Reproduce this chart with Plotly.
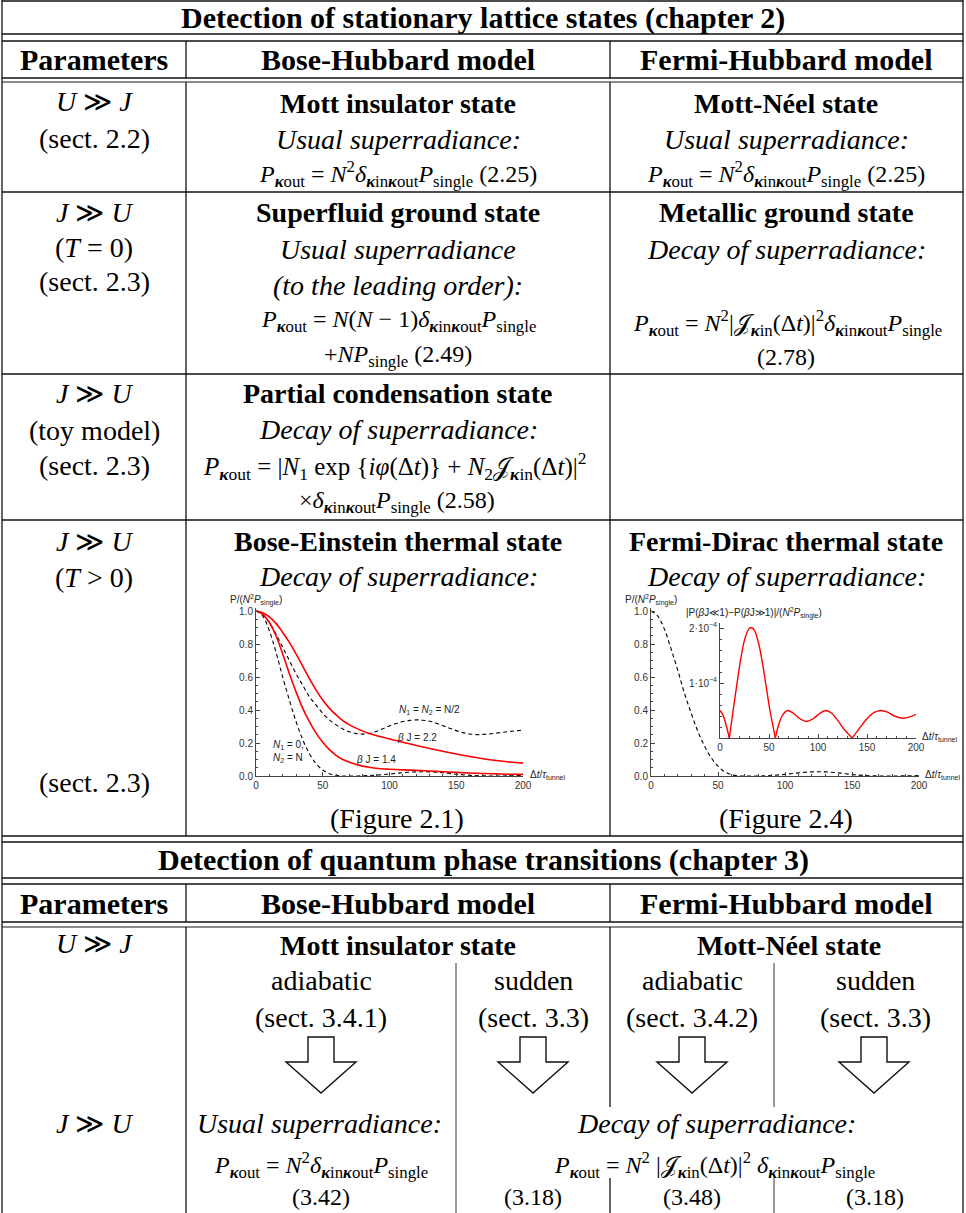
import plotly.graph_objects as go

W, H = 966, 1213

# ---------------- data ----------------
# Figure 2.1 (Bose-Einstein thermal state)
t_coarse = [0, 5, 10, 15, 20, 25, 30, 35, 40, 45, 50, 55, 60, 65, 70, 80, 90, 100,
            110, 120, 130, 140, 150, 160, 170, 180, 190, 200]
bose_n1_zero = [1.0, 0.97, 0.88, 0.75, 0.60, 0.46, 0.33, 0.22, 0.135, 0.075, 0.036, 0.014,
                0.004, 0.0, 0.0, 0.001, 0.005, 0.012, 0.02, 0.025, 0.025, 0.02, 0.011,
                0.004, 0.001, 0.0, 0.001, 0.003]
t_fine = [0, 5, 10, 15, 20, 25, 30, 35, 40, 45, 50, 55, 60, 65, 70, 75, 80, 85, 90, 95,
          100, 105, 110, 115, 120, 125, 130, 135, 140, 145, 150, 155, 160, 165, 170, 175,
          180, 185, 190, 195, 200]
bose_half = [1.0, 0.98, 0.93, 0.86, 0.78, 0.70, 0.62, 0.55, 0.48, 0.43, 0.38, 0.34, 0.31,
             0.285, 0.268, 0.257, 0.254, 0.258, 0.27, 0.287, 0.303, 0.318, 0.33, 0.337,
             0.34, 0.338, 0.332, 0.32, 0.305, 0.29, 0.275, 0.263, 0.255, 0.251, 0.252,
             0.255, 0.26, 0.265, 0.27, 0.274, 0.278]
t_red = [0, 5, 10, 15, 20, 25, 30, 35, 40, 45, 50, 55, 60, 65, 70, 75, 80, 85, 90, 100,
         110, 120, 130, 140, 150, 160, 170, 180, 190, 200]
bose_bj22 = [1.0, 0.99, 0.965, 0.925, 0.87, 0.81, 0.74, 0.665, 0.59, 0.52, 0.46, 0.41, 0.37,
             0.335, 0.31, 0.29, 0.272, 0.257, 0.245, 0.225, 0.205, 0.185, 0.167, 0.15,
             0.133, 0.118, 0.105, 0.094, 0.085, 0.078]
bose_bj14 = [1.0, 0.98, 0.93, 0.85, 0.74, 0.62, 0.51, 0.41, 0.33, 0.26, 0.205, 0.16, 0.125,
             0.10, 0.083, 0.07, 0.06, 0.053, 0.047, 0.041, 0.037, 0.034, 0.03, 0.026, 0.022,
             0.018, 0.015, 0.013, 0.011, 0.01]
# Figure 2.4 (Fermi-Dirac thermal state)
fermi_thermal = [1.0, 0.97, 0.89, 0.77, 0.64, 0.50, 0.38, 0.27, 0.18, 0.11, 0.06, 0.025,
                 0.008, 0.001, 0.0, 0.0, 0.003, 0.01, 0.019, 0.025, 0.025, 0.019, 0.009,
                 0.003, 0.0, 0.0, 0.001, 0.002]
t_inset = [0, 3, 6, 9.5, 13, 17, 21, 25, 29, 32, 35, 39, 43, 47, 51, 56.5, 60, 64, 69, 74,
           80, 88, 95, 102, 108, 114, 120, 127, 135, 142, 150, 157, 164, 171, 178, 186,
           193, 200]
fermi_diff_1e4 = [0.50, 0.42, 0.25, 0.0, 0.45, 0.95, 1.42, 1.78, 1.97, 2.01, 1.96, 1.75,
                  1.40, 0.95, 0.50, 0.0, 0.25, 0.42, 0.50, 0.46, 0.37, 0.30, 0.35, 0.45,
                  0.50, 0.45, 0.32, 0.15, 0.0, 0.17, 0.35, 0.46, 0.50, 0.47, 0.40, 0.36,
                  0.38, 0.43]
x_ticks = [0, 50, 100, 150, 200]
y_ticks = [0, 0.2, 0.4, 0.6, 0.8, 1.0]
inset_y_ticks = [1, 2]
inset_y_labels = ["1·10<sup>−4</sup>", "2·10<sup>−4</sup>"]

# ---------------- helpers ----------------
def px(x):
    return x / W


def py(y):
    return 1 - y / H


SERIF = "Liberation Serif"
SANS = "Liberation Sans"
BODY, HEAD, FORM = 28, 30, 24

fig = go.Figure()

RED = "#ff0000"
DASH = "4px,3px"

fig.add_trace(go.Scatter(x=t_fine, y=bose_half, xaxis="x", yaxis="y", mode="lines",
                         line=dict(color="black", width=1.1, dash=DASH, shape="spline")))
fig.add_trace(go.Scatter(x=t_coarse, y=bose_n1_zero, xaxis="x", yaxis="y", mode="lines",
                         line=dict(color="black", width=1.1, dash=DASH, shape="spline")))
fig.add_trace(go.Scatter(x=t_red, y=bose_bj22, xaxis="x", yaxis="y", mode="lines",
                         line=dict(color=RED, width=1.6, shape="spline")))
fig.add_trace(go.Scatter(x=t_red, y=bose_bj14, xaxis="x", yaxis="y", mode="lines",
                         line=dict(color=RED, width=1.6, shape="spline")))
fig.add_trace(go.Scatter(x=t_coarse, y=fermi_thermal, xaxis="x2", yaxis="y2", mode="lines",
                         line=dict(color="black", width=1.1, dash=DASH, shape="spline")))

# inset: split at the cusps (zeros) so that they stay sharp
seg_start = 0
for i, v in enumerate(fermi_diff_1e4):
    if (v == 0.0 and i > 0) or i == len(fermi_diff_1e4) - 1:
        fig.add_trace(go.Scatter(x=t_inset[seg_start:i + 1], y=fermi_diff_1e4[seg_start:i + 1],
                                 xaxis="x3", yaxis="y3", mode="lines",
                                 line=dict(color=RED, width=1.4, shape="spline")))
        seg_start = i


def axis(domain, anchor, rng, dtick_minor, **kw):
    d = dict(domain=domain, anchor=anchor, range=rng, showline=True, linecolor="#444",
             linewidth=1, ticks="inside", ticklen=4, tickcolor="#444", tickwidth=1,
             showgrid=False, zeroline=False, automargin=False, fixedrange=True,
             tickfont=dict(family=SANS, size=10, color="#333"),
             minor=dict(ticks="inside", ticklen=2, tickcolor="#444", dtick=dtick_minor,
                        showgrid=False))
    d.update(kw)
    return d


ydom = [py(776), py(776 - 1.02 * 165)]
layout = dict(
    width=W, height=H, margin=dict(l=0, r=0, t=0, b=0), autosize=False,
    paper_bgcolor="white", plot_bgcolor="rgba(0,0,0,0)", showlegend=False,
    xaxis=axis([px(256), px(523)], "y", [0, 200], 10, tickvals=x_ticks),
    yaxis=axis(ydom, "x", [0, 1.02], 0.05, tickvals=y_ticks, tickformat=".1f"),
    xaxis2=axis([px(651), px(919)], "y2", [0, 200], 10, tickvals=x_ticks),
    yaxis2=axis(ydom, "x2", [0, 1.02], 0.05, tickvals=y_ticks, tickformat=".1f"),
    xaxis3=axis([px(720), px(916)], "y3", [0, 200], 10, tickvals=x_ticks),
    yaxis3=axis([py(738), py(738 - 2.1 * 55)], "x3", [0, 2.1], 0.2,
                tickvals=inset_y_ticks, ticktext=inset_y_labels),
)
fig.update_layout(**layout)

# ---------------- table lines ----------------
shapes = []


def hline(y, x0=2, x1=963, color="#111", width=1.3):
    shapes.append(dict(type="line", xref="paper", yref="paper", x0=px(x0), x1=px(x1),
                       y0=py(y), y1=py(y), line=dict(color=color, width=width)))


def vline(x, y0, y1, color="#111", width=1.3):
    shapes.append(dict(type="line", xref="paper", yref="paper", x0=px(x), x1=px(x),
                       y0=py(y0), y1=py(y1), line=dict(color=color, width=width)))


for y in [1, 34, 41, 78, 192, 374, 520, 836, 842, 878, 884, 922]:
    hline(y)
for y in [82, 927]:
    hline(y, color="#666")
vline(2, 0, H)
vline(963, 0, H)
for x in [186, 610]:
    vline(x, 41, 78)
    vline(x, 82, 836)
    vline(x, 884, 922)
vline(186, 927, H)
vline(610, 927, 1107)
vline(610, 1178, H)
vline(456, 963, H, color="#444", width=1.1)
vline(774, 963, 1107, color="#444", width=1.1)
vline(774, 1178, H, color="#444", width=1.1)


def arrow(cx, top=1037, base=1062, tip=1093, hs=13, hh=35):
    pts = [(cx - hs, top), (cx - hs, base), (cx - hh, base), (cx, tip), (cx + hh, base),
           (cx + hs, base), (cx + hs, top)]
    path = "M " + " L ".join(f"{px(a):.5f},{py(b):.5f}" for a, b in pts) + " Z"
    shapes.append(dict(type="path", xref="paper", yref="paper", path=path,
                       line=dict(color="#111", width=1.4), fillcolor="white"))


for cx in [321, 533, 692, 874]:
    arrow(cx)

fig.update_layout(shapes=shapes)

# ---------------- text ----------------
ann = []


def txt(s, x, y, size=BODY, anchor="center", family=SERIF, color="black"):
    ann.append(dict(text=s, x=px(x), y=py(y), xref="paper", yref="paper", showarrow=False,
                    xanchor=anchor, yanchor="middle",
                    font=dict(family=family, size=size, color=color)))


K = "<b><i><sub>κ</sub></i></b>"
Pk = f"<i>P</i>{K}<sub>out</sub>"
dk = f"<i>δ</i>{K}<sub>in</sub>{K}<sub>out</sub>"
Ps = "<i>P</i><sub>single</sub>"
N2 = "<i>N</i><sup>2</sup>"
JJ = f"𝒥{K}<sub>in</sub>(Δ<i>t</i>)"
UJ = "<i>U</i> ≫ <i>J</i>"
JU = "<i>J</i> ≫ <i>U</i>"

# section 1
txt("<b>Detection of stationary lattice states (chapter 2)</b>", 483, 18, HEAD)
for s, x in [("<b>Parameters</b>", 94), ("<b>Bose-Hubbard model</b>", 398),
             ("<b>Fermi-Hubbard model</b>", 786)]:
    txt(s, x, 59, HEAD)

txt(UJ, 94, 102)
txt("(sect. 2.2)", 94, 138)
txt("<b>Mott insulator state</b>", 398, 103)
txt("<i>Usual superradiance:</i>", 398, 139)
txt(f"{Pk} = {N2}{dk}{Ps} (2.25)", 398, 174, FORM)
txt("<b>Mott-Néel state</b>", 786, 103)
txt("<i>Usual superradiance:</i>", 786, 139)
txt(f"{Pk} = {N2}{dk}{Ps} (2.25)", 786, 174, FORM)

txt(JU, 94, 213)
txt("(<i>T</i> = 0)", 94, 247)
txt("(sect. 2.3)", 94, 281)
txt("<b>Superfluid ground state</b>", 398, 213)
txt("<i>Usual superradiance</i>", 398, 249)
txt("<i>(to the leading order):</i>", 398, 285)
txt(f"{Pk} = <i>N</i>(<i>N</i> − 1){dk}{Ps}", 398, 321, FORM)
txt("+<i>NP</i><sub>single</sub> (2.49)", 398, 356, FORM)
txt("<b>Metallic ground state</b>", 786, 213)
txt("<i>Decay of superradiance:</i>", 786, 249)
txt(f"{Pk} = {N2}|{JJ}|<sup>2</sup>{dk}{Ps}", 787, 323, FORM)
txt("(2.78)", 786, 357, FORM)

txt(JU, 94, 393)
txt("(toy model)", 94, 430)
txt("(sect. 2.3)", 94, 466)
txt("<b>Partial condensation state</b>", 398, 393)
txt("<i>Decay of superradiance:</i>", 398, 429)
txt(f"{Pk} = |<i>N</i><sub>1</sub> exp {{<i>iφ</i>(Δ<i>t</i>)}} + <i>N</i><sub>2</sub>{JJ}|<sup>2</sup>",
    394, 466, FORM + 1)
txt(f"×{dk}{Ps} (2.58)", 397, 502, FORM)

txt(JU, 94, 541)
txt("(<i>T</i> > 0)", 94, 577)
txt("(sect. 2.3)", 94, 782)
txt("<b>Bose-Einstein thermal state</b>", 398, 541)
txt("<i>Decay of superradiance:</i>", 398, 576)
txt("(Figure 2.1)", 397, 818)
txt("<b>Fermi-Dirac thermal state</b>", 786, 541)
txt("<i>Decay of superradiance:</i>", 786, 576)
txt("(Figure 2.4)", 786, 818)

# plot labels
PS = 10
ylab = "P/(<i>N</i><sup>2</sup><i>P</i><sub>single</sub>)"
xlab = "Δ<i>t</i>/<i>τ</i><sub>tunnel</sub>"
txt(ylab, 256, 600, PS, family=SANS, color="#222")
txt(ylab, 651, 600, PS, family=SANS, color="#222")
txt(xlab, 528, 775, PS, anchor="left", family=SANS, color="#222")
txt(xlab, 923, 775, PS, anchor="left", family=SANS, color="#222")
txt(xlab, 920, 737, PS, anchor="left", family=SANS, color="#222")
txt("|P(<i>β</i>J≪1)−P(<i>β</i>J≫1)|/(<i>N</i><sup>2</sup><i>P</i><sub>single</sub>)",
    754, 613, PS, family=SANS, color="#222")


def dlabel(s, x, y, ax="x", ay="y", anchor="center"):
    ann.append(dict(text=s, x=x, y=y, xref=ax, yref=ay, showarrow=False, xanchor=anchor,
                    yanchor="middle", font=dict(family=SANS, size=PS, color="#222")))


dlabel("<i>N</i><sub>1</sub> = <i>N</i><sub>2</sub> = N/2", 130, 0.40)
dlabel("<i>β</i> J = 2.2", 120.5, 0.236)
dlabel("<i>β</i> J = 1.4", 90, 0.097)
dlabel("<i>N</i><sub>1</sub> = 0,", 11, 0.188, anchor="left")
dlabel("<i>N</i><sub>2</sub> = N", 11, 0.109, anchor="left")

# section 2
txt("<b>Detection of quantum phase transitions (chapter 3)</b>", 483, 860, HEAD)
for s, x in [("<b>Parameters</b>", 94), ("<b>Bose-Hubbard model</b>", 398),
             ("<b>Fermi-Hubbard model</b>", 786)]:
    txt(s, x, 903, HEAD)
txt(UJ, 94, 943)
txt("<b>Mott insulator state</b>", 398, 945)
txt("<b>Mott-Néel state</b>", 789, 945)
for x, a, b in [(321, "adiabatic", "(sect. 3.4.1)"), (533, "sudden", "(sect. 3.3)"),
                (692, "adiabatic", "(sect. 3.4.2)"), (875, "sudden", "(sect. 3.3)")]:
    txt(a, x, 980)
    txt(b, x, 1017)
txt(JU, 94, 1123)
txt("<i>Usual superradiance:</i>", 319, 1123)
txt(f"{Pk} = {N2}{dk}{Ps}", 321, 1165, FORM)
txt("(3.42)", 321, 1197, FORM)
txt("<i>Decay of superradiance:</i>", 716, 1123)
txt(f"{Pk} = {N2} |{JJ}|<sup>2</sup> {dk}{Ps}", 714, 1165, FORM)
txt("(3.18)", 533, 1197, FORM)
txt("(3.48)", 692, 1197, FORM)
txt("(3.18)", 875, 1197, FORM)

fig.update_layout(annotations=ann)
fig.write_html("out.html")
